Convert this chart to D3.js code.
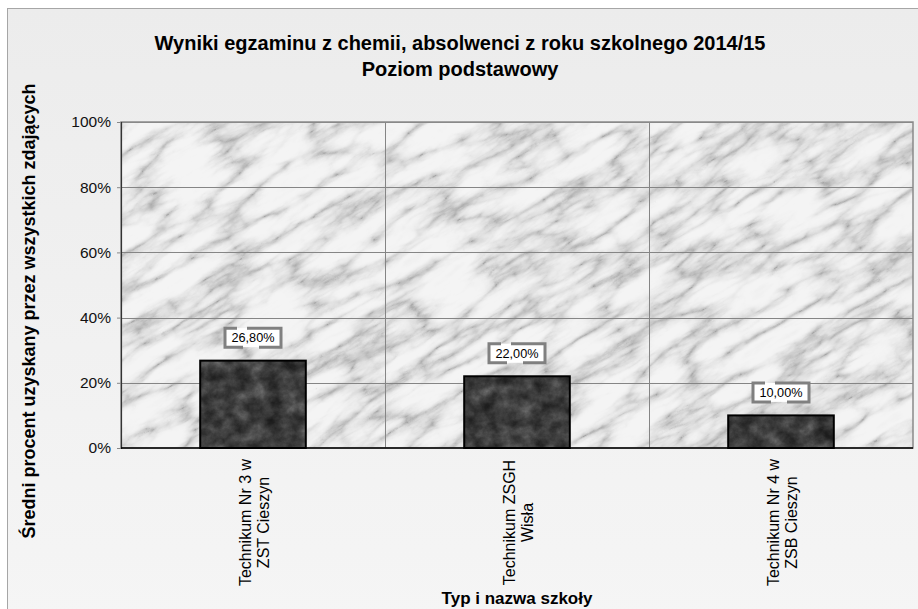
<!DOCTYPE html>
<html>
<head>
<meta charset="utf-8">
<script src="https://cdn.jsdelivr.net/npm/d3@7"></script>
<style>
  html, body { margin: 0; padding: 0; background: #ffffff; }
  svg { display: block; font-family: "Liberation Sans", Arial, Helvetica, sans-serif; }
</style>
</head>
<body>
<svg id="chart" width="918" height="609"></svg>
<script>
// ---- data ----
const titleLines = ["Wyniki egzaminu z chemii, absolwenci z roku szkolnego 2014/15", "Poziom podstawowy"];
const categories = ["Technikum Nr 3 w ZST Cieszyn", "Technikum ZSGH Wisła", "Technikum Nr 4 w ZSB Cieszyn"];
const categoryLines = [["Technikum Nr 3 w", "ZST Cieszyn"], ["Technikum ZSGH", "Wisła"], ["Technikum Nr 4 w", "ZSB Cieszyn"]];
const values = [26.8, 22.0, 10.0];
const valueLabels = ["26,80%", "22,00%", "10,00%"];
const yTicks = [0, 20, 40, 60, 80, 100];
const yTitle = "Średni procent uzyskany przez wszystkich zdających";
const xTitle = "Typ i nazwa szkoły";

// ---- layout ----
const W = 918, H = 609;
const plot = { left: 121, top: 122, right: 913, bottom: 448 };

const svg = d3.select("#chart");
const defs = svg.append("defs");

// background gradient
const bg = defs.append("linearGradient").attr("id", "bgGrad").attr("x1", 0).attr("y1", 0).attr("x2", 0).attr("y2", 1);
bg.append("stop").attr("offset", "0%").attr("stop-color", "#ececec");
bg.append("stop").attr("offset", "100%").attr("stop-color", "#f5f5f5");

function marbleFilter(id, type, freq, oct, seed, table, blur) {
  const f = defs.append("filter").attr("id", id)
    .attr("x", 0).attr("y", 0).attr("width", 1).attr("height", 1)
    .attr("color-interpolation-filters", "sRGB");
  f.append("feTurbulence").attr("type", type).attr("baseFrequency", freq)
    .attr("numOctaves", oct).attr("seed", seed).attr("result", "n");
  f.append("feColorMatrix").attr("type", "matrix")
    .attr("values", "1 0 0 0 0  1 0 0 0 0  1 0 0 0 0  0 0 0 0 1").attr("result", "g");
  const ct = f.append("feComponentTransfer");
  ["feFuncR", "feFuncG", "feFuncB"].forEach(fn => ct.append(fn).attr("type", "table").attr("tableValues", table));
  if (blur) f.append("feGaussianBlur").attr("stdDeviation", blur);
}
marbleFilter("marbleLight", "turbulence", "0.012 0.04", 5, 4,
  "0.64 0.78 0.87 0.92 0.95 0.96 0.96 0.95 0.94 0.93", 0.7);
marbleFilter("marbleDark", "fractalNoise", "0.06 0.07", 5, 9,
  "0.08 0.13 0.2 0.28 0.38 0.5", 0);

// chart area background
svg.append("rect").attr("x", 7.5).attr("y", 8.5).attr("width", W).attr("height", H)
  .attr("fill", "url(#bgGrad)").attr("stroke", "#a6a6a6").attr("stroke-width", 1);

// scales
const x = d3.scaleBand().domain(categories).range([plot.left, plot.right])
  .paddingInner(0.6).paddingOuter(0.3);
const y = d3.scaleLinear().domain([0, 100]).range([plot.bottom, plot.top]);

// plot area marble
defs.append("clipPath").attr("id", "plotClip").append("rect")
  .attr("x", plot.left).attr("y", plot.top)
  .attr("width", plot.right - plot.left).attr("height", plot.bottom - plot.top);
const cx = (plot.left + plot.right) / 2, cy = (plot.top + plot.bottom) / 2;
svg.append("g").attr("clip-path", "url(#plotClip)")
  .append("g").attr("transform", `rotate(-30 ${cx} ${cy})`)
  .append("rect").attr("x", cx - 600).attr("y", cy - 500).attr("width", 1200).attr("height", 1000)
  .attr("filter", "url(#marbleLight)");

// horizontal gridlines
svg.append("g").selectAll("line").data(yTicks.filter(d => d > 0)).join("line")
  .attr("x1", plot.left).attr("x2", plot.right)
  .attr("y1", d => Math.round(y(d)) + 0.5).attr("y2", d => Math.round(y(d)) + 0.5)
  .attr("stroke", "#858585").attr("stroke-width", 1);

// vertical gridlines at category boundaries
const step = x.step();
svg.append("g").selectAll("line").data(categories.slice(1)).join("line")
  .attr("x1", d => Math.round(x(d) - step * 0.3) + 0.5)
  .attr("x2", d => Math.round(x(d) - step * 0.3) + 0.5)
  .attr("y1", plot.top).attr("y2", plot.bottom)
  .attr("stroke", "#858585").attr("stroke-width", 1);

// plot border
svg.append("rect").attr("x", plot.left).attr("y", plot.top)
  .attr("width", plot.right - plot.left).attr("height", plot.bottom - plot.top)
  .attr("fill", "none").attr("stroke", "#8a8a8a").attr("stroke-width", 1.5);

// bars
const barsG = svg.append("g");
categories.forEach((c, i) => {
  const bx = x(c), bw = x.bandwidth(), by = y(values[i]), bh = y(0) - y(values[i]);
  const cid = "barClip" + i;
  defs.append("clipPath").attr("id", cid).append("rect")
    .attr("x", bx).attr("y", by).attr("width", bw).attr("height", bh);
  barsG.append("g").attr("clip-path", `url(#${cid})`)
    .append("rect").attr("x", bx - 20).attr("y", by - 20).attr("width", bw + 40).attr("height", bh + 40)
    .attr("filter", "url(#marbleDark)");
  barsG.append("rect").attr("x", bx).attr("y", by).attr("width", bw).attr("height", bh)
    .attr("fill", "none").attr("stroke", "#000").attr("stroke-width", 2);
});

// axes
const yAxis = d3.axisLeft(y).tickValues(yTicks).tickFormat(d => d + "%").tickSize(4).tickPadding(6);
const gy = svg.append("g").attr("transform", `translate(${plot.left},0)`).call(yAxis);
gy.select(".domain").attr("stroke", "#333").attr("stroke-width", 1.2);
gy.selectAll(".tick line").attr("stroke", "#888");
gy.selectAll(".tick text").attr("font-size", 15.5).attr("fill", "#111")
  .attr("font-family", '"Liberation Sans", Arial, sans-serif');

svg.append("line").attr("x1", plot.left).attr("x2", plot.right)
  .attr("y1", plot.bottom).attr("y2", plot.bottom).attr("stroke", "#000").attr("stroke-width", 1.5);

// category labels
const catG = svg.append("g");
categories.forEach((c, i) => {
  const mx = x(c) + x.bandwidth() / 2;
  const t = catG.append("text")
    .attr("transform", `translate(${mx},522.5) rotate(-90)`)
    .attr("text-anchor", "middle").attr("font-size", 16).attr("fill", "#000");
  categoryLines[i].forEach((ln, k) => {
    t.append("tspan").attr("x", 0).attr("y", k === 0 ? -2 : 15.5).text(ln);
  });
});

// value labels
const lblG = svg.append("g");
categories.forEach((c, i) => {
  const mx = x(c) + x.bandwidth() / 2;
  const my = y(values[i]) - 23;
  lblG.append("rect").attr("x", mx - 28).attr("y", my - 9.5).attr("width", 56).attr("height", 19)
    .attr("fill", "#fff").attr("stroke", "#808080").attr("stroke-width", 3)
    .attr("stroke-dasharray", "12 10 75 16 37");
  lblG.append("text").attr("x", mx).attr("y", my + 4.5).attr("text-anchor", "middle")
    .attr("font-size", 12.7).attr("fill", "#000").text(valueLabels[i]);
});

// titles
svg.append("text").attr("x", 460).attr("y", 50).attr("text-anchor", "middle")
  .attr("font-size", 20).attr("font-weight", "bold").text(titleLines[0]);
svg.append("text").attr("x", 460).attr("y", 76).attr("text-anchor", "middle")
  .attr("font-size", 20).attr("font-weight", "bold").text(titleLines[1]);

svg.append("text").attr("transform", "translate(35,311) rotate(-90)").attr("text-anchor", "middle")
  .attr("font-size", 18).attr("font-weight", "bold").text(yTitle);

svg.append("text").attr("x", (plot.left + plot.right) / 2).attr("y", 604).attr("text-anchor", "middle")
  .attr("font-size", 17).attr("font-weight", "bold").text(xTitle);
</script>
</body>
</html>
